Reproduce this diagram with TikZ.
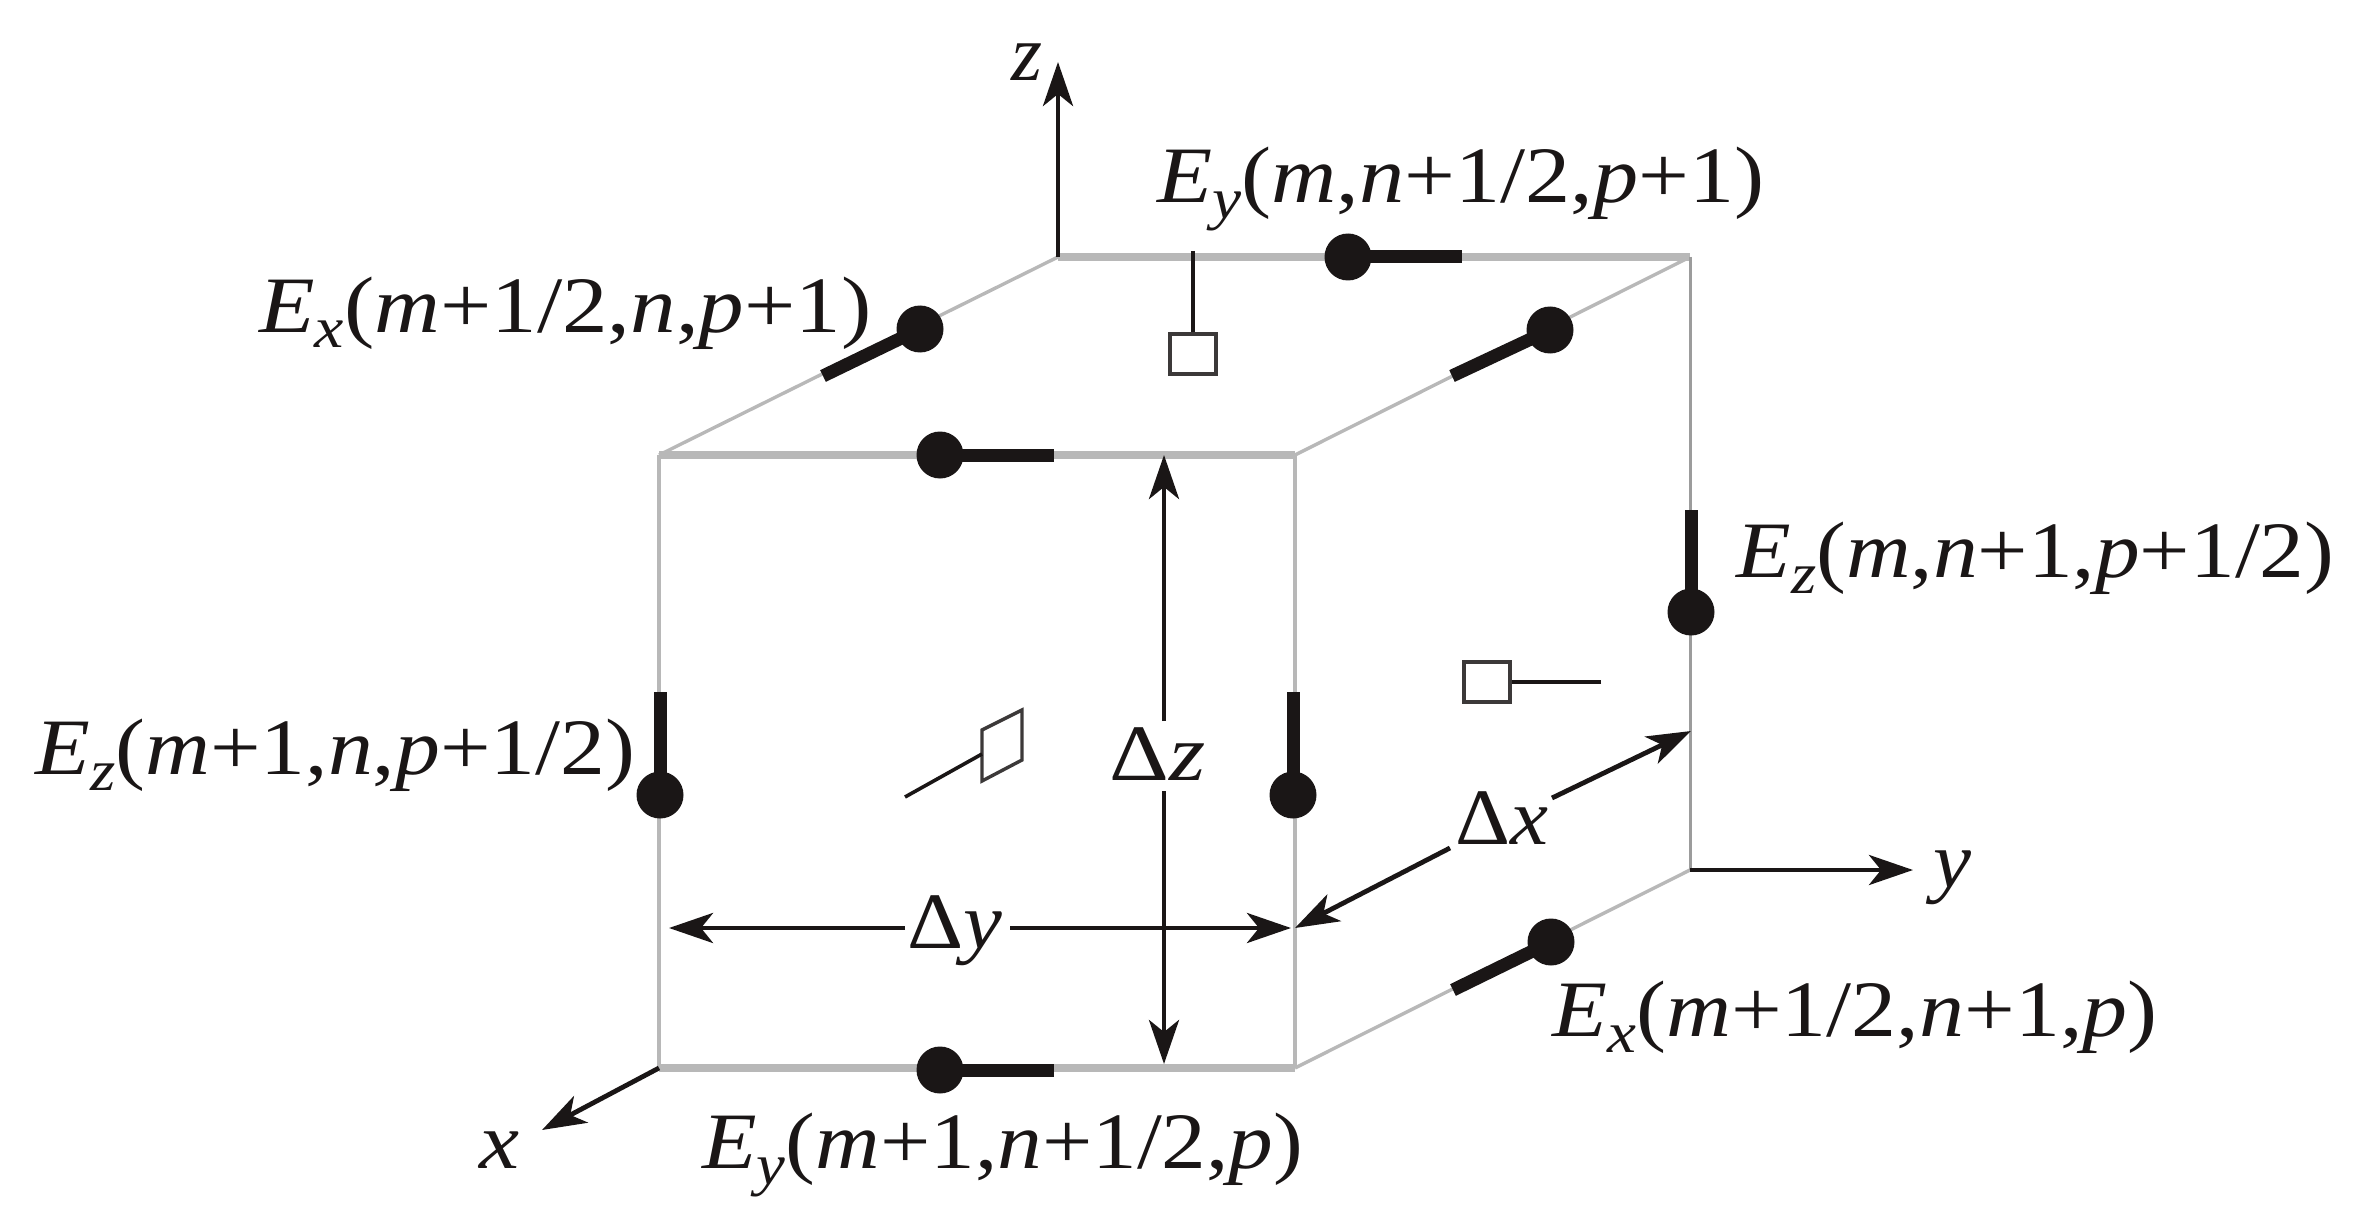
\documentclass[tikz,border=0pt]{standalone}
\usepackage{fontspec}
\setmainfont{Liberation Serif}
\usetikzlibrary{arrows.meta}
\definecolor{ink}{HTML}{1A1616}
\definecolor{edgegray}{HTML}{B8B8B8}
\newcommand\fitw[2]{\sbox0{#2}\pgfmathsetmacro\sxf{#1*0.5/(\wd0)}\scalebox{\sxf}[1]{\usebox0}}
\newcommand\Esub[1]{\textit{E}\raisebox{-0.2em}{\fontsize{29}{30}\selectfont\textit{#1}}}
\newcommand\vm{\textit{m}}
\newcommand\vn{\textit{n}}
\newcommand\vp{\textit{p}}
\tikzset{
  thickedge/.style={draw=edgegray,line width=4pt},
  midedge/.style={draw=edgegray,line width=2.2pt},
  thinedge/.style={draw=edgegray!85!black,line width=1.5pt},
  diagedge/.style={draw=edgegray,line width=1.7pt},
  dot/.style={circle,fill=ink,inner sep=0pt,minimum size=23.5pt},
  bar/.style={draw=ink,line width=6.5pt},
  axis/.style={draw=ink,line width=2.4pt,-{Stealth[length=22pt,width=15pt,inset=6pt]}},
  dim/.style={draw=ink,line width=2.4pt,-{Stealth[length=22pt,width=15pt,inset=6pt]}},
  probe/.style={draw=ink,line width=1.8pt},
  sq/.style={draw=ink!85,line width=1.7pt,fill=white},
  lab/.style={anchor=base west,inner sep=0pt,text=ink,font=\fontsize{40}{42}\selectfont},
}
\begin{document}
\begin{tikzpicture}[x=0.5pt,y=-0.5pt]
\useasboundingbox (0,0) rectangle (2356,1214);
% cube corners
\coordinate (btl) at (1058,257);
\coordinate (btr) at (1690,257);
\coordinate (ftl) at (659,455);
\coordinate (ftr) at (1295,455);
\coordinate (fbl) at (659,1068);
\coordinate (fbr) at (1295,1068);
\coordinate (bbr) at (1690,870);
% cube edges
\draw[thickedge] (btl) -- (btr);
\draw[thickedge] (ftl) -- (ftr);
\draw[thickedge] (fbl) -- (fbr);
\draw[diagedge] (ftl) -- (btl);
\draw[diagedge] (ftr) -- (btr);
\draw[diagedge] (fbr) -- (bbr);
\draw[midedge] (ftl) -- (fbl);
\draw[midedge] (ftr) -- (fbr);
\draw[thinedge] (btr) -- (bbr);
% axes
\coordinate (ztip) at (1058,62);
\coordinate (ytip) at (1913,870);
\coordinate (xtip) at (542,1130);
\draw[axis] (btl) -- (ztip);
\draw[axis] (bbr) -- (ytip);
\draw[axis] (fbl) -- (xtip);
% field markers
\node[dot] (d1) at (1348,257) {};
\coordinate (e1) at (1462,257);
\draw[bar] (d1.center) -- (e1);
\node[dot] (d2) at (920,329) {};
\coordinate (e2) at (823,376);
\draw[bar] (d2.center) -- (e2);
\node[dot] (d3) at (1550,330) {};
\coordinate (e3) at (1452,376);
\draw[bar] (d3.center) -- (e3);
\node[dot] (d4) at (940,455) {};
\coordinate (e4) at (1054,455);
\draw[bar] (d4.center) -- (e4);
\node[dot] (d5) at (1691,612) {};
\coordinate (e5) at (1691,510);
\draw[bar] (d5.center) -- (e5);
\node[dot] (d6) at (1293,795) {};
\coordinate (e6) at (1293,692);
\draw[bar] (d6.center) -- (e6);
\node[dot] (d7) at (660,795) {};
\coordinate (e7) at (660,692);
\draw[bar] (d7.center) -- (e7);
\node[dot] (d8) at (940,1070) {};
\coordinate (e8) at (1054,1070);
\draw[bar] (d8.center) -- (e8);
\node[dot] (d9) at (1551,942) {};
\coordinate (e9) at (1453,990);
\draw[bar] (d9.center) -- (e9);
% magnetic-field probes
\node[sq,rectangle,minimum width=23pt,minimum height=20pt,inner sep=0pt] (s1) at (1193,354) {};
\coordinate (p1) at (1193,251);
\draw[probe] (p1) -- (s1.north);
\node[sq,rectangle,minimum width=23pt,minimum height=20pt,inner sep=0pt] (s2) at (1487,682) {};
\coordinate (p2) at (1601,682);
\draw[probe] (p2) -- (s2.east);
\coordinate (pa) at (982,730);
\coordinate (pb) at (1022,710);
\coordinate (pc) at (1022,760);
\coordinate (pd) at (982,781);
\draw[sq] (pa) -- (pb) -- (pc) -- (pd) -- cycle;
\coordinate (p3s) at (905,797);
\coordinate (p3e) at (982,754);
\draw[probe] (p3s) -- (p3e);
% dimension arrows
\coordinate (zt) at (1164,455);
\coordinate (zg1) at (1164,721);
\coordinate (zg2) at (1164,791);
\coordinate (zb) at (1164,1064);
\draw[dim] (zg1) -- (zt);
\draw[dim] (zg2) -- (zb);
\coordinate (yl) at (669,928);
\coordinate (yg1) at (905,928);
\coordinate (yg2) at (1010,928);
\coordinate (yr) at (1291,928);
\draw[dim] (yg1) -- (yl);
\draw[dim] (yg2) -- (yr);
\coordinate (xg1) at (1450,848);
\coordinate (xl) at (1295,928);
\coordinate (xg2) at (1552,798);
\coordinate (xr) at (1691,731);
\draw[dim] (xg1) -- (xl);
\draw[dim] (xg2) -- (xr);
% labels
\node[lab] (lz) at (1011,81) {\fitw{31}{\textit{z}}};
\node[lab] (ly) at (1933,887) {\fitw{38}{\textit{y}}};
\node[lab] (lx) at (479,1168) {\fitw{40}{\textit{x}}};
\node[lab] (ldz) at (1109,780) {\fitw{96}{Δ\textit{z}}};
\node[lab] (ldy) at (907,948) {\fitw{95}{Δ\textit{y}}};
\node[lab] (ldx) at (1455,844) {\fitw{93}{Δ\textit{x}}};
\node[lab] (l1) at (1157,203) {\fitw{607}{\Esub{y}(\vm,\vn+1/2,\vp+1)}};
\node[lab] (l2) at (259,332) {\fitw{612}{\Esub{x}(\vm+1/2,\vn,\vp+1)}};
\node[lab] (l3) at (1736,577) {\fitw{598}{\Esub{z}(\vm,\vn+1,\vp+1/2)}};
\node[lab] (l4) at (35,774) {\fitw{600}{\Esub{z}(\vm+1,\vn,\vp+1/2)}};
\node[lab] (l5) at (1552,1036) {\fitw{605}{\Esub{x}(\vm+1/2,\vn+1,\vp)}};
\node[lab] (l6) at (702,1168) {\fitw{601}{\Esub{y}(\vm+1,\vn+1/2,\vp)}};
\end{tikzpicture}
\end{document}
